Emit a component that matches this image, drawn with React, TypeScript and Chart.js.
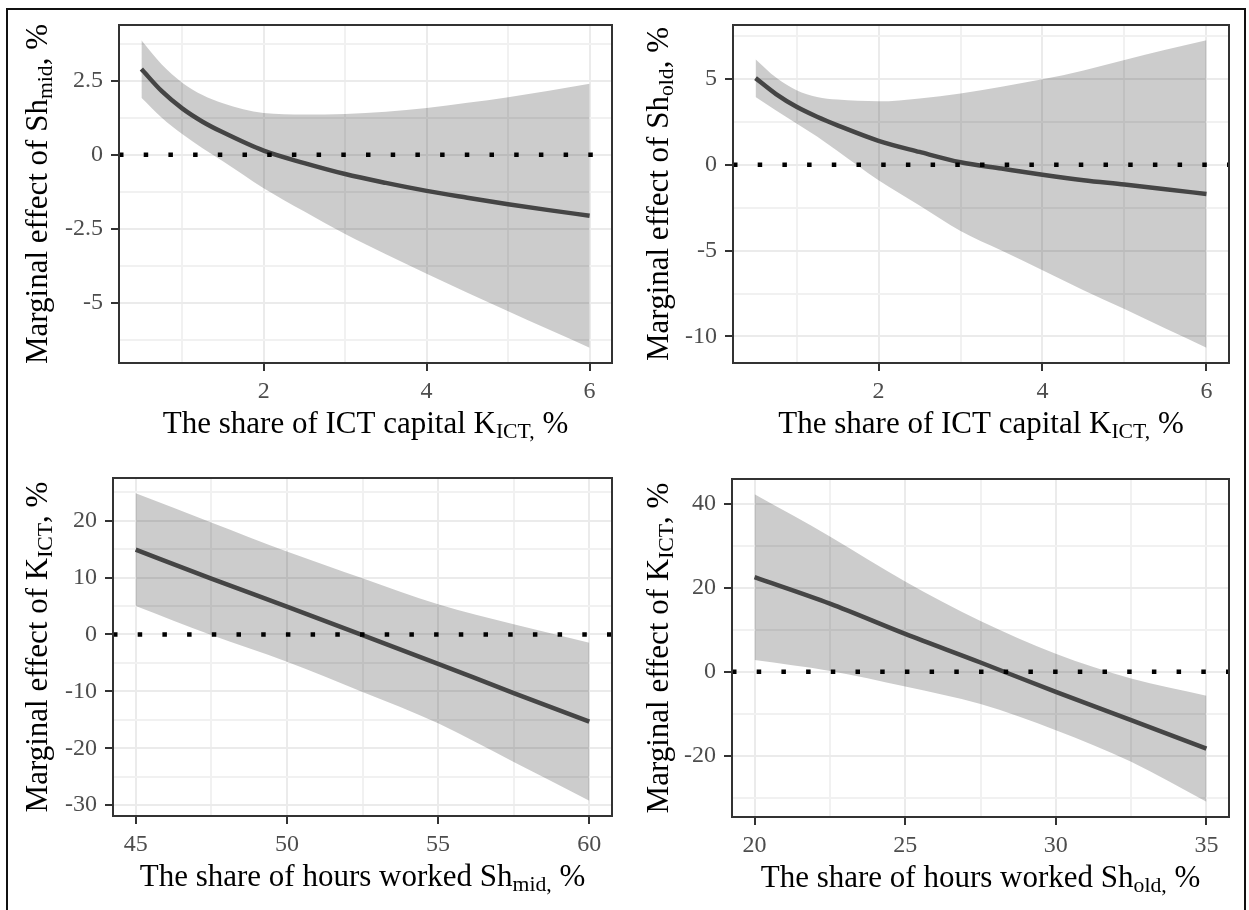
import { useEffect, useRef } from "react";
import { Chart, registerables } from "chart.js";

Chart.register(...registerables);

// ---- Marginal effect of Sh_mid over the share of ICT capital (top-left) ----
const ictShareMid = [0.5, 0.75, 1, 1.25, 1.5, 2, 2.5, 3, 3.5, 4, 4.5, 5, 5.5, 6];
const midEffect = [2.9, 2.15, 1.57, 1.12, 0.76, 0.14, -0.28, -0.65, -0.95, -1.22, -1.45, -1.67, -1.87, -2.06];
const midUpper = [3.87, 3.05, 2.44, 2.02, 1.74, 1.41, 1.36, 1.38, 1.46, 1.58, 1.76, 1.95, 2.17, 2.4];
const midLower = [1.93, 1.25, 0.7, 0.22, -0.22, -1.13, -1.92, -2.68, -3.36, -4.02, -4.66, -5.29, -5.91, -6.52];

// ---- Marginal effect of Sh_old over the share of ICT capital (top-right) ----
const ictShareOld = [0.5, 0.75, 1, 1.25, 1.5, 2, 2.5, 3, 3.5, 4, 4.5, 5, 5.5, 6];
const oldEffect = [5.05, 4.12, 3.38, 2.8, 2.3, 1.4, 0.75, 0.15, -0.22, -0.58, -0.9, -1.15, -1.42, -1.7];
const oldUpper = [6.15, 5.08, 4.35, 3.95, 3.8, 3.7, 3.87, 4.15, 4.55, 4.98, 5.5, 6.1, 6.7, 7.25];
const oldLower = [3.95, 3.16, 2.41, 1.65, 0.8, -0.9, -2.37, -3.85, -4.99, -6.14, -7.3, -8.4, -9.54, -10.65];

// ---- Marginal effect of K_ICT over the share of hours worked Sh_mid (bottom-left) ----
const hoursMid = [45, 47.5, 50, 52.5, 55, 57.5, 60];
const kMidEffect = [14.9, 9.8, 4.9, -0.1, -5.15, -10.3, -15.3];
const kMidUpper = [24.8, 19.7, 14.6, 9.9, 5.3, 1.8, -1.45];
const kMidLower = [5.0, -0.1, -4.8, -10.1, -15.6, -22.4, -29.2];

// ---- Marginal effect of K_ICT over the share of hours worked Sh_old (bottom-right) ----
const hoursOld = [20, 22.5, 25, 27.5, 30, 32.5, 35];
const kOldEffect = [22.5, 16.2, 9.0, 2.2, -4.8, -11.5, -18.3];
const kOldUpper = [42.2, 32.2, 21.5, 12.1, 4.3, -1.6, -5.7];
const kOldLower = [2.8, 0.2, -3.5, -7.7, -13.9, -21.4, -30.9];

// ---- Axis ticks (major ticks carry labels, minor ticks only grid lines) ----
const ictTicksMajor = [2, 4, 6];
const ictTicksMinor = [1, 3, 5];
const midTicksMajor = [-5, -2.5, 0, 2.5];
const midTicksMinor = [-6.25, -3.75, -1.25, 1.25, 3.75];
const oldTicksMajor = [-10, -5, 0, 5];
const oldTicksMinor = [-7.5, -2.5, 2.5, 7.5];
const hoursMidTicksMajor = [45, 50, 55, 60];
const hoursMidTicksMinor = [47.5, 52.5, 57.5];
const kMidTicksMajor = [-30, -20, -10, 0, 10, 20];
const kMidTicksMinor = [-25, -15, -5, 5, 15, 25];
const hoursOldTicksMajor = [20, 25, 30, 35];
const hoursOldTicksMinor = [22.5, 27.5, 32.5];
const kOldTicksMajor = [-20, 0, 20, 40];
const kOldTicksMinor = [-30, -10, 10, 30];

const FAMILY = "'Liberation Serif', 'Times New Roman', serif";
const TICK_SIZE = 24;
const TITLE_SIZE = 31;
const SUB_RATIO = 0.7;
const SUB_SHIFT = 5;

type Part = { text: string; sub?: boolean };

interface PanelSpec {
  key: string;
  left: number;
  top: number;
  width: number;
  height: number;
  pad: { left: number; right: number; top: number; bottom: number };
  xs: number[];
  mean: number[];
  upper: number[];
  lower: number[];
  xMajor: number[];
  xMinor: number[];
  yMajor: number[];
  yMinor: number[];
  xTitle: Part[];
  yTitle: Part[];
  yTitleX: number;
}

const panels: PanelSpec[] = [
  {
    key: "tl",
    left: 0, top: 0, width: 624, height: 455,
    pad: { left: 19, right: 12, top: 25, bottom: 32 },
    xs: ictShareMid, mean: midEffect, upper: midUpper, lower: midLower,
    xMajor: ictTicksMajor, xMinor: ictTicksMinor,
    yMajor: midTicksMajor, yMinor: midTicksMinor,
    xTitle: [{ text: "The share of ICT capital K" }, { text: "ICT,", sub: true }, { text: " %" }],
    yTitle: [{ text: "Marginal effect of Sh" }, { text: "mid", sub: true }, { text: ", %" }],
    yTitleX: 47,
  },
  {
    key: "tr",
    left: 624, top: 0, width: 625, height: 455,
    pad: { left: 9, right: 20, top: 25, bottom: 32 },
    xs: ictShareOld, mean: oldEffect, upper: oldUpper, lower: oldLower,
    xMajor: ictTicksMajor, xMinor: ictTicksMinor,
    yMajor: oldTicksMajor, yMinor: oldTicksMinor,
    xTitle: [{ text: "The share of ICT capital K" }, { text: "ICT,", sub: true }, { text: " %" }],
    yTitle: [{ text: "Marginal effect of Sh" }, { text: "old", sub: true }, { text: ", %" }],
    yTitleX: 44,
  },
  {
    key: "bl",
    left: 0, top: 455, width: 624, height: 455,
    pad: { left: 13, right: 12, top: 23, bottom: 34 },
    xs: hoursMid, mean: kMidEffect, upper: kMidUpper, lower: kMidLower,
    xMajor: hoursMidTicksMajor, xMinor: hoursMidTicksMinor,
    yMajor: kMidTicksMajor, yMinor: kMidTicksMinor,
    xTitle: [{ text: "The share of hours worked Sh" }, { text: "mid,", sub: true }, { text: " %" }],
    yTitle: [{ text: "Marginal effect of K" }, { text: "ICT", sub: true }, { text: ", %" }],
    yTitleX: 47,
  },
  {
    key: "br",
    left: 624, top: 455, width: 625, height: 455,
    pad: { left: 8, right: 20, top: 24, bottom: 33 },
    xs: hoursOld, mean: kOldEffect, upper: kOldUpper, lower: kOldLower,
    xMajor: hoursOldTicksMajor, xMinor: hoursOldTicksMinor,
    yMajor: kOldTicksMajor, yMinor: kOldTicksMinor,
    xTitle: [{ text: "The share of hours worked Sh" }, { text: "old,", sub: true }, { text: " %" }],
    yTitle: [{ text: "Marginal effect of K" }, { text: "ICT", sub: true }, { text: ", %" }],
    yTitleX: 44,
  },
];

// ggplot-style 5% expansion of a continuous range
function expandRange(values: number[]): [number, number] {
  const lo = Math.min(...values);
  const hi = Math.max(...values);
  const d = (hi - lo) * 0.05;
  return [lo - d, hi + d];
}

const hasValue = (list: number[], v: number) => list.some((m) => Math.abs(m - v) < 1e-9);

function drawRich(ctx: CanvasRenderingContext2D, parts: Part[], cx: number, baseline: number) {
  const subSize = TITLE_SIZE * SUB_RATIO;
  const widths = parts.map((p) => {
    ctx.font = `${p.sub ? subSize : TITLE_SIZE}px ${FAMILY}`;
    return ctx.measureText(p.text).width;
  });
  const total = widths.reduce((a, b) => a + b, 0);
  let x = cx - total / 2;
  ctx.textAlign = "left";
  ctx.textBaseline = "alphabetic";
  ctx.fillStyle = "#000";
  parts.forEach((p, i) => {
    ctx.font = `${p.sub ? subSize : TITLE_SIZE}px ${FAMILY}`;
    ctx.fillText(p.text, x, p.sub ? baseline + SUB_SHIFT : baseline);
    x += widths[i];
  });
}

function axisOptions(
  major: number[],
  minor: number[],
  min: number,
  max: number,
  isX: boolean
) {
  const all = [...major, ...minor].filter((v) => v >= min && v <= max).sort((a, b) => a - b);
  return {
    type: "linear" as const,
    min,
    max,
    bounds: "data" as const,
    afterBuildTicks: (scale: any) => {
      scale.ticks = all.map((v) => ({ value: v }));
    },
    afterFit: (scale: any) => {
      if (isX) scale.height = 60;
      else scale.width = 100;
    },
    border: { display: false },
    grid: {
      color: (c: any) => (hasValue(major, c.tick?.value) ? "#ebebeb" : "#f1f1f1"),
      lineWidth: 2,
      tickColor: (c: any) => (hasValue(major, c.tick?.value) ? "#333333" : "rgba(0,0,0,0)"),
      tickLength: 8,
      tickWidth: 2,
      drawTicks: true,
    },
    ticks: {
      autoSkip: false,
      maxRotation: 0,
      minRotation: 0,
      padding: isX ? 6 : 8,
      color: "#4d4d4d",
      font: { family: FAMILY, size: TICK_SIZE },
      callback: (v: any) => (hasValue(major, Number(v)) ? String(v) : ""),
    },
  };
}

function Panel({ spec }: { spec: PanelSpec }) {
  const ref = useRef<HTMLCanvasElement | null>(null);

  useEffect(() => {
    const canvas = ref.current;
    if (!canvas) return;
    const [xMin, xMax] = expandRange(spec.xs);
    const [yMin, yMax] = expandRange([...spec.upper, ...spec.lower, 0]);
    const pts = (ys: number[]) => spec.xs.map((x, i) => ({ x, y: ys[i] }));

    const decorations = {
      id: "panelDecorations",
      afterDatasetsDraw(chart: any) {
        const { ctx, chartArea: a } = chart;
        ctx.save();
        ctx.strokeStyle = "#333333";
        ctx.lineWidth = 2;
        ctx.strokeRect(a.left, a.top, a.right - a.left, a.bottom - a.top);
        ctx.restore();
      },
      afterDraw(chart: any) {
        const { ctx, chartArea: a } = chart;
        ctx.save();
        drawRich(ctx, spec.xTitle, (a.left + a.right) / 2, a.bottom + 70);
        ctx.restore();
        ctx.save();
        ctx.translate(spec.yTitleX, (a.top + a.bottom) / 2);
        ctx.rotate(-Math.PI / 2);
        drawRich(ctx, spec.yTitle, 0, 0);
        ctx.restore();
      },
    };

    const chart = new Chart(canvas, {
      type: "line",
      data: {
        datasets: [
          {
            // reference line at zero
            data: [
              { x: xMin, y: 0 },
              { x: xMax, y: 0 },
            ],
            borderColor: "#000000",
            borderWidth: 4.5,
            borderDash: [4.5, 20.2],
            borderCapStyle: "butt",
            pointRadius: 0,
            fill: false,
            tension: 0,
          },
          {
            // marginal effect
            data: pts(spec.mean),
            borderColor: "#454545",
            borderWidth: 4.5,
            pointRadius: 0,
            fill: false,
            cubicInterpolationMode: "monotone",
          },
          {
            // upper confidence bound, filled down to the lower bound
            data: pts(spec.upper),
            borderWidth: 0,
            borderColor: "rgba(0,0,0,0)",
            backgroundColor: "rgba(0,0,0,0.2)",
            pointRadius: 0,
            fill: "+1",
            cubicInterpolationMode: "monotone",
          },
          {
            // lower confidence bound
            data: pts(spec.lower),
            borderWidth: 0,
            borderColor: "rgba(0,0,0,0)",
            pointRadius: 0,
            fill: false,
            cubicInterpolationMode: "monotone",
          },
        ],
      },
      options: {
        responsive: false,
        animation: false,
        events: [],
        layout: { padding: spec.pad },
        plugins: {
          legend: { display: false },
          tooltip: { enabled: false },
        },
        scales: {
          x: axisOptions(spec.xMajor, spec.xMinor, xMin, xMax, true),
          y: axisOptions(spec.yMajor, spec.yMinor, yMin, yMax, false),
        },
      } as any,
      plugins: [decorations],
    } as any);

    return () => chart.destroy();
  }, [spec]);

  return (
    <canvas
      ref={ref}
      width={spec.width}
      height={spec.height}
      style={{
        position: "absolute",
        left: spec.left,
        top: spec.top,
        width: spec.width,
        height: spec.height,
      }}
    />
  );
}

export default function App() {
  return (
    <div
      style={{
        position: "fixed",
        left: 0,
        top: 0,
        width: 1249,
        height: 910,
        background: "#ffffff",
        overflow: "hidden",
      }}
    >
      <div
        style={{
          position: "absolute",
          left: 6,
          top: 8,
          width: 1236,
          height: 902,
          borderLeft: "2px solid #111",
          borderTop: "2px solid #111",
          borderRight: "2px solid #111",
        }}
      />
      {panels.map((p) => (
        <Panel key={p.key} spec={p} />
      ))}
    </div>
  );
}
